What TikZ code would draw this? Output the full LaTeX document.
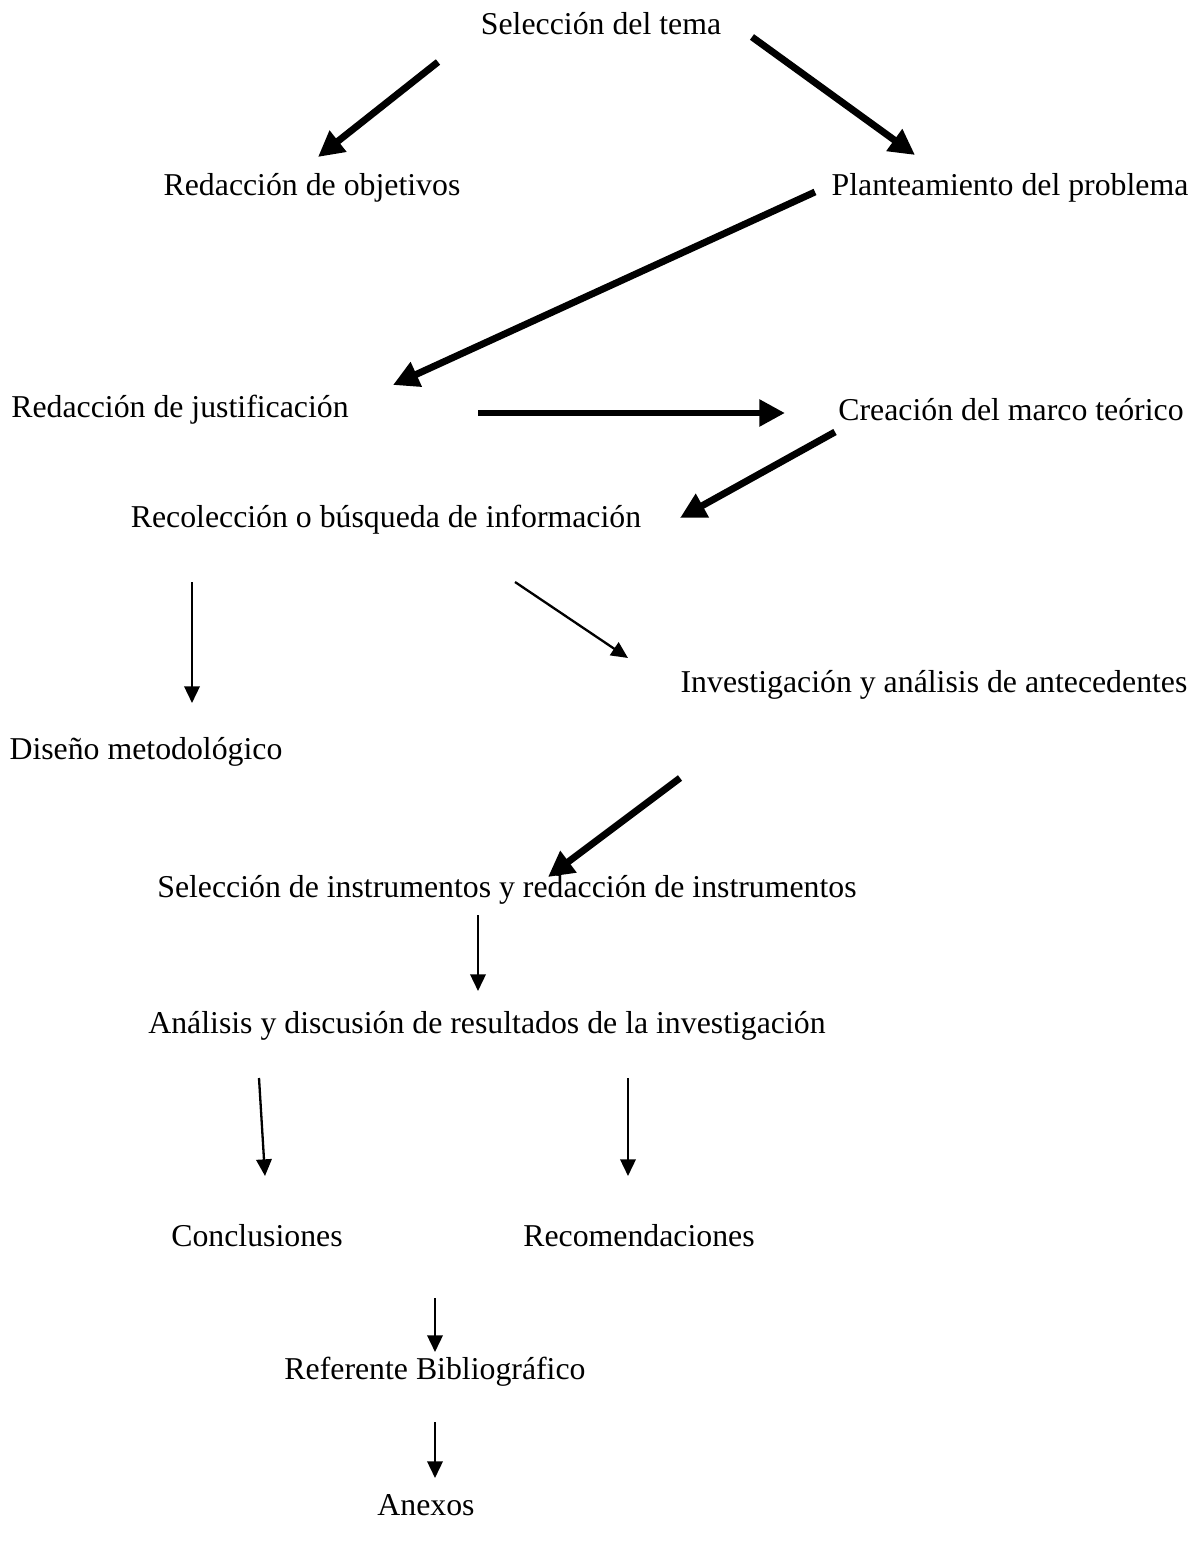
\documentclass[tikz,border=0pt]{standalone}
\usepackage{fontspec}
\setmainfont{Liberation Serif}
\usetikzlibrary{arrows.meta}
\tikzset{
  paso/.style={inner sep=0pt, font=\fontsize{12.4}{14}\selectfont},
  grueso/.style={line width=2.7pt, -{Triangle[length=10pt, width=10pt]}},
  fino/.style={line width=0.9pt, -{Triangle[length=6.5pt, width=6pt]}}
}
\begin{document}
\begin{tikzpicture}[x=0.39pt, y=-0.39pt]
        \useasboundingbox (0,0) rectangle (1200,1550);

        % Pasos
        \node[paso] (tema) at (601,24) {Selección del tema};
        \node[paso] (objetivos) at (312,188) {Redacción de objetivos};
        \node[paso] (problema) at (1010,188) {Planteamiento del problema};
        \node[paso] (justificacion) at (180,410) {Redacción de justificación};
        \node[paso] (marco) at (1011,410) {Creación del marco teórico};
        \node[paso] (recoleccion) at (386,520) {Recolección o búsqueda de información};
        \node[paso] (antecedentes) at (934,685) {Investigación y análisis de antecedentes};
        \node[paso] (diseno) at (146,752) {Diseño metodológico};
        \node[paso] (instrumentos) at (507,890) {Selección de instrumentos y redacción de instrumentos};
        \node[paso] (analisis) at (487,1026) {Análisis y discusión de resultados de la investigación};
        \node[paso] (conclusiones) at (257,1236) {Conclusiones};
        \node[paso] (recomendaciones) at (639,1236) {Recomendaciones};
        \node[paso] (referente) at (435,1372) {Referente Bibliográfico};
        \node[paso] (anexos) at (426,1505) {Anexos};

        % Extremos de las flechas
        \coordinate (a1) at (438,62);   \coordinate (b1) at (318,157);
        \coordinate (a2) at (752,37);   \coordinate (b2) at (915,155);
        \coordinate (a3) at (815,192);  \coordinate (b3) at (393,385);
        \coordinate (a4) at (478,413);  \coordinate (b4) at (785,413);
        \coordinate (a5) at (835,432);  \coordinate (b5) at (680,518);
        \coordinate (a6) at (192,582);  \coordinate (b6) at (192,703);
        \coordinate (a7) at (515,582);  \coordinate (b7) at (628,658);
        \coordinate (a8) at (680,778);  \coordinate (b8) at (548,877);
        \coordinate (a9) at (478,915);  \coordinate (b9) at (478,991);
        \coordinate (a10) at (259,1078); \coordinate (b10) at (265,1176);
        \coordinate (a11) at (628,1078); \coordinate (b11) at (628,1176);
        \coordinate (a12) at (435,1298); \coordinate (b12) at (435,1352);
        \coordinate (a13) at (435,1422); \coordinate (b13) at (435,1478);

        % Flechas gruesas
        \draw[grueso] (a1) -- (b1);
        \draw[grueso] (a2) -- (b2);
        \draw[grueso] (a3) -- (b3);
        \draw[grueso] (a4) -- (b4);
        \draw[grueso] (a5) -- (b5);
        \draw[grueso] (a8) -- (b8);

        % Flechas finas
        \draw[fino] (a6) -- (b6);
        \draw[fino] (a7) -- (b7);
        \draw[fino] (a9) -- (b9);
        \draw[fino] (a10) -- (b10);
        \draw[fino] (a11) -- (b11);
        \draw[fino] (a12) -- (b12);
        \draw[fino] (a13) -- (b13);

    \end{tikzpicture}
\end{document}
